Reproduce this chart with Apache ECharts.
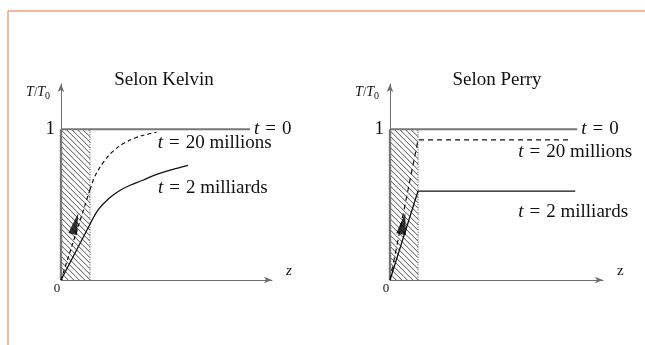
<!DOCTYPE html>
<html>
<head>
<meta charset="utf-8">
<script src="https://cdn.jsdelivr.net/npm/echarts@6/dist/echarts.min.js"></script>
<style>html,body{margin:0;padding:0;background:#fff;}#c{width:645px;height:345px;}</style>
</head>
<body>
<div id="c"></div>
<script>
// ---- data ----
const panelTitles = ['Selon Kelvin', 'Selon Perry'];
const hatchRegion = [[0, 0, 1, 1]];           // insulated layer: x 0..1, y 0..1
const kelvinT0 = [[0, 1], [6.52, 1]];
const kelvin20MLine = [[0, 0], [1, 0.6]];
const kelvin20MCurve = [[1, 0.6], [1.2, 0.7], [1.5, 0.79], [1.8, 0.855], [2.2, 0.91], [2.6, 0.945], [3.0, 0.968], [3.3, 0.98]];
const kelvin2GLine = [[0, 0], [1, 0.37]];
const kelvin2GCurve = [[1, 0.37], [1.3, 0.47], [1.65, 0.54], [2.0, 0.59], [2.4, 0.63], [2.8, 0.66], [3.3, 0.70], [3.8, 0.73], [4.38, 0.76]];
const kelvinArrow = [[0.5, 0.375]];
const perryT0 = [[0, 1], [6.68, 1]];
const perry20M = [[0, 0], [1, 0.93], [6.43, 0.93]];
const perry2G = [[0, 0], [1, 0.59], [6.61, 0.59]];
const perryArrow = [[0.47, 0.375]];
const labelT0 = 't = 0';
const label20M = 't = 20 millions';
const label2G = 't = 2 milliards';
const yTickLabels = ['0', '1'];
const xTickLabels = ['0'];

const SERIF = 'Liberation Serif';
const INK = '#111';
const GREY = '#6e6e6e';

function mathLabel(txt) {
  const parts = txt.split(' = ');
  return '{it|' + parts[0] + '}{eq|=}{rm|' + parts[1] + '}';
}
const labelRich = {
  it: { fontFamily: SERIF, fontStyle: 'italic', fontSize: 19, color: INK },
  eq: { fontFamily: SERIF, fontSize: 19, color: INK, padding: [0, 6, 0, 6] },
  rm: { fontFamily: SERIF, fontSize: 19, color: INK }
};
function endLbl(text, offset) {
  return { show: true, formatter: mathLabel(text), rich: labelRich, offset: offset, distance: 0 };
}

function hatchItem(params, api) {
  const tl = api.coord([api.value(0), api.value(3)]);
  const br = api.coord([api.value(2), api.value(1)]);
  const L = tl[0], T = tl[1], R = br[0], B = br[1];
  const children = [];
  const step = 5.5;
  for (let c = T - R + 2; c <= B - L; c += step) {
    const x1 = Math.max(L, T - c), x2 = Math.min(R, B - c);
    if (x2 > x1) children.push({ type: 'line', shape: { x1: x1, y1: x1 + c, x2: x2, y2: x2 + c }, style: { stroke: '#222', lineWidth: 0.8 } });
  }
  children.push({ type: 'line', shape: { x1: R, y1: T, x2: R, y2: B }, style: { stroke: '#555', lineWidth: 1, lineDash: [1, 1.5] } });
  children.push({ type: 'line', shape: { x1: L, y1: T, x2: L, y2: B }, style: { stroke: '#777', lineWidth: 2.4 } });
  return { type: 'group', children: children };
}

function makeXAxis(idx, max, italicZ) {
  return {
    gridIndex: idx, type: 'value', min: 0, max: max, interval: 1,
    name: 'z', nameLocation: 'end', nameGap: 14,
    nameTextStyle: { fontFamily: SERIF, fontStyle: italicZ ? 'italic' : 'normal', fontSize: 15, color: INK, verticalAlign: 'bottom', padding: [0, 0, 1, 0] },
    axisLine: { show: true, lineStyle: { color: GREY, width: 1 }, symbol: ['none', 'arrow'], symbolSize: [5, 8] },
    axisTick: { show: false }, splitLine: { show: false },
    axisLabel: { show: true, formatter: v => (v === 0 ? xTickLabels[0] : ''), fontFamily: SERIF, fontSize: 13, color: INK, margin: 2, padding: [0, 8, 0, 0], showMaxLabel: false }
  };
}
function makeYAxis(idx) {
  return {
    gridIndex: idx, type: 'value', min: 0, max: 1.3, interval: 1,
    name: '{it|T}/{it|T}{sub|0}', nameLocation: 'end', nameGap: 0,
    nameTextStyle: {
      align: 'right', verticalAlign: 'top', padding: [0, 11, 0, 0],
      rich: {
        it: { fontFamily: SERIF, fontStyle: 'italic', fontSize: 14, color: INK },
        sub: { fontFamily: SERIF, fontSize: 10, color: INK, padding: [7, 0, 0, 0] }
      }
    },
    axisLine: { show: true, lineStyle: { color: GREY, width: 1 }, symbol: ['none', 'arrow'], symbolSize: [5, 8] },
    axisTick: { show: false }, splitLine: { show: false },
    axisLabel: { show: true, formatter: v => (v === 1 ? yTickLabels[1] : ''), fontFamily: SERIF, fontSize: 19, color: INK, margin: 6, showMaxLabel: false }
  };
}
function lineSeries(idx, data, opts) {
  return Object.assign({
    type: 'line', xAxisIndex: idx, yAxisIndex: idx, data: data,
    showSymbol: false, symbol: 'none', silent: true, animation: false,
    lineStyle: { color: INK, width: 1.2 }
  }, opts || {});
}

const chart = echarts.init(document.getElementById('c'), null, { renderer: 'canvas' });
chart.setOption({
  animation: false,
  backgroundColor: '#fff',
  graphic: [
    { type: 'line', shape: { x1: 8, y1: 11, x2: 645, y2: 11 }, style: { stroke: '#f2a27e', lineWidth: 1.5 } },
    { type: 'line', shape: { x1: 8, y1: 11, x2: 8, y2: 345 }, style: { stroke: '#f2a27e', lineWidth: 1.5 } }
  ],
  title: [
    { text: panelTitles[0], left: 164, top: 71, textAlign: 'center', padding: 0, textStyle: { fontFamily: SERIF, fontSize: 19, fontWeight: 'normal', color: INK } },
    { text: panelTitles[1], left: 497, top: 71, textAlign: 'center', padding: 0, textStyle: { fontFamily: SERIF, fontSize: 19, fontWeight: 'normal', color: INK } }
  ],
  grid: [
    { left: 61, right: 373, top: 84, bottom: 65 },
    { left: 390, right: 42, top: 84, bottom: 65 }
  ],
  xAxis: [makeXAxis(0, 7.28, true), makeXAxis(1, 7.6, false)],
  yAxis: [makeYAxis(0), makeYAxis(1)],
  series: [
    // Kelvin
    { type: 'custom', xAxisIndex: 0, yAxisIndex: 0, data: hatchRegion, renderItem: hatchItem, silent: true, z: 1 },
    lineSeries(0, kelvinT0, { lineStyle: { color: '#777', width: 2 }, endLabel: endLbl(labelT0, [4, 0]), z: 3 }),
    lineSeries(0, kelvin20MLine, { lineStyle: { color: INK, width: 1.2, type: [4, 3] } }),
    lineSeries(0, kelvin20MCurve, { smooth: 0.4, lineStyle: { color: INK, width: 1.2, type: [4, 3] }, endLabel: endLbl(label20M, [1, 11]) }),
    lineSeries(0, kelvin2GLine, { lineStyle: { color: INK, width: 1.3 } }),
    lineSeries(0, kelvin2GCurve, { smooth: 0.4, lineStyle: { color: INK, width: 1.3 }, endLabel: endLbl(label2G, [-30, 23]) }),
    { type: 'scatter', xAxisIndex: 0, yAxisIndex: 0, data: kelvinArrow, symbol: 'triangle', symbolSize: [9, 22], symbolRotate: -15, itemStyle: { color: '#000' }, silent: true, z: 5 },
    // Perry
    { type: 'custom', xAxisIndex: 1, yAxisIndex: 1, data: hatchRegion, renderItem: hatchItem, silent: true, z: 1 },
    lineSeries(1, perryT0, { lineStyle: { color: '#777', width: 2 }, endLabel: endLbl(labelT0, [4, 0]), z: 3 }),
    lineSeries(1, perry20M, { lineStyle: { color: INK, width: 1.2, type: [5, 4] }, endLabel: endLbl(label20M, [-52, 12]) }),
    lineSeries(1, perry2G, { lineStyle: { color: INK, width: 1.3 }, endLabel: endLbl(label2G, [-57, 21]) }),
    { type: 'scatter', xAxisIndex: 1, yAxisIndex: 1, data: perryArrow, symbol: 'triangle', symbolSize: [10, 22], symbolRotate: -11, itemStyle: { color: '#000' }, silent: true, z: 5 }
  ]
});
</script>
</body>
</html>
